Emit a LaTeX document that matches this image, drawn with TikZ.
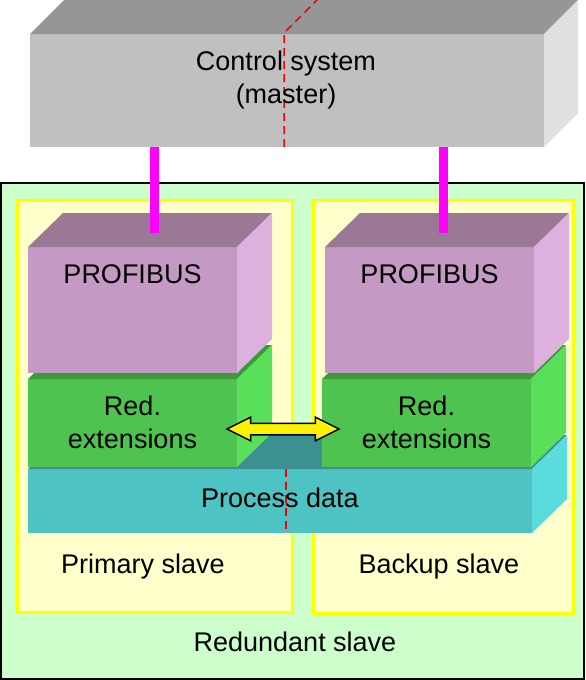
\documentclass[tikz,border=0pt]{standalone}
\usepackage{fontspec}
\setmainfont{Liberation Sans}
\usetikzlibrary{calc,positioning,shapes.arrows}
\definecolor{frontctrl}{HTML}{C0C0C0}
\definecolor{topctrl}{HTML}{969696}
\definecolor{sidectrl}{HTML}{E0E0E0}
\definecolor{frontpb}{HTML}{C499C4}
\definecolor{toppb}{HTML}{9A7896}
\definecolor{sidepb}{HTML}{DDB0DD}
\definecolor{frontred}{HTML}{4FC34F}
\definecolor{topred}{HTML}{3C9A3C}
\definecolor{sidered}{HTML}{5ADF5A}
\definecolor{frontproc}{HTML}{4EC3C3}
\definecolor{topproc}{HTML}{3D9090}
\definecolor{sideproc}{HTML}{5ADCDC}
\definecolor{redundantfill}{HTML}{CCFFCC}
\definecolor{slavefill}{HTML}{FFFFCC}
\definecolor{slaveedge}{HTML}{FFFF00}
\definecolor{busmagenta}{HTML}{FF00FF}

\begin{document}
\begin{tikzpicture}[x=1pt,y=-1pt,
  face/.style={inner sep=0pt,outer sep=0pt,anchor=north west},
  lbl/.style={font=\fontsize{27}{33}\selectfont,align=center,inner sep=0pt},
  slavebox/.style={draw=slaveedge,line width=3pt,fill=slavefill},
  bus/.style={draw=busmagenta,line width=9pt},
  cut/.style={draw=red,dashed,line width=1.5pt,dash pattern=on 8pt off 5pt},
  syncarrow/.style={double arrow,draw=black,line width=1.5pt,fill=yellow,
    minimum height=112pt,inner xsep=0pt,inner ysep=5pt,text height=0pt,text depth=0pt,
    double arrow head extend=6pt,double arrow tip angle=53}]
  \useasboundingbox (0,0) rectangle (586,680);
  % redundant slave and the two slaves
  \node[face,draw=black,line width=1.5pt,fill=redundantfill,minimum width=583pt,minimum height=496pt] (red-slave) at (1,183) {};
  \node[face,slavebox,minimum width=275pt,minimum height=412pt] (primary) at (17,200) {};
  \node[face,slavebox,minimum width=260pt,minimum height=413pt] (backup) at (313,200) {};
  % stacked layers, back to front
  \foreach \n/\c/\x/\y/\w/\h in {proc/proc/28/469/504/64, redL/red/28/379/209/88, redR/red/322/379/209/88,
      pbL/pb/28/247/209/126, pbR/pb/325/247/209/126}{
    \node[face,fill=front\c,minimum width=\w pt,minimum height=\h pt] (\n) at (\x,\y) {};
    \fill[top\c] (\n.north west) -- ++(35,-34) -- ($(\n.north east)+(35,-34)$) -- (\n.north east) -- cycle;
    \fill[side\c] (\n.north east) -- ++(35,-34) -- ($(\n.south east)+(35,-34)$) -- (\n.south east) -- cycle;
  }
  % PROFIBUS lines
  \coordinate (tapL) at (154,233);
  \coordinate (tapR) at (443,233);
  % control system
  \node[face,fill=frontctrl,minimum width=514pt,minimum height=113pt] (ctrl) at (30,34) {};
  \fill[topctrl] (ctrl.north west) -- ++(34,-34) -- ($(ctrl.north east)+(34,-34)$) -- (ctrl.north east) -- cycle;
  \fill[sidectrl] (ctrl.north east) -- ++(34,-34) -- ($(ctrl.south east)+(34,-34)$) -- (ctrl.south east) -- cycle;
  \draw[bus] (tapL) -- (tapL |- ctrl.south);
  \draw[bus] (tapR) -- (tapR |- ctrl.south);
  \draw[cut] (284,147) -- (284,33) -- (318,-1);
  \draw[cut] (286,469) -- (286,533);
  \node[syncarrow] (sync) at (283,429) {};
  % texts
  \node[lbl] at (286,80) {Control system\\(master)};
  \node[lbl] at ($(pbL.north)+(0,27)$) {PROFIBUS};
  \node[lbl] at ($(pbR.north)+(0,27)$) {PROFIBUS};
  \node[lbl] at ($(redL.center)+(0,-1)$) {Red.\\extensions};
  \node[lbl] at ($(redR.center)+(0,-1)$) {Red.\\extensions};
  \node[lbl] at (280,498) {Process data};
  \node[lbl] at (143,567) {Primary slave};
  \node[lbl] at (439,567) {Backup slave};
  \node[lbl] at (295,642) {Redundant slave};
\end{tikzpicture}
\end{document}
